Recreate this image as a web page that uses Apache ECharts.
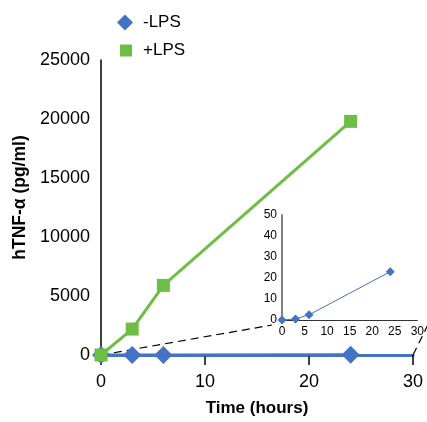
<!DOCTYPE html>
<html>
<head>
<meta charset="utf-8">
<script src="https://cdn.jsdelivr.net/npm/echarts@6/dist/echarts.min.js"></script>
<style>
html,body{margin:0;padding:0;background:#fff;}
#c{width:427px;height:422px;}
</style>
</head>
<body>
<div id="c"></div>
<script>
// ---- data ----
const timeHours = [0, 3, 6, 24];
const minusLPS = [0, 0.5, 2.5, 23];
const plusLPS = [0, 2200, 5900, 19800];
const mainYTicks = [0, 5000, 10000, 15000, 20000, 25000];
const mainXTicks = [0, 10, 20, 30];
const insetYTicks = [0, 10, 20, 30, 40, 50];
const insetXTicks = [0, 5, 10, 15, 20, 25, 30];

const BLUE = '#4472C4';
const GREEN = '#6DBE45';
const FONT = "'Liberation Sans', Arial, sans-serif";

const pairs = (xs, ys) => xs.map((x, i) => [x, ys[i]]);
const plain = v => String(v);

const chart = echarts.init(document.getElementById('c'), null, {renderer: 'canvas'});

const option = {
  animation: false,
  backgroundColor: '#fff',
  legend: [
    {
      left: 117, top: 14, orient: 'vertical', padding: 0,
      itemWidth: 16, itemHeight: 16,
      data: [{name: '-LPS', icon: 'diamond'}],
      textStyle: {fontFamily: FONT, fontSize: 17, color: '#000', padding: [0, 0, 0, 5]},
      selectedMode: false
    },
    {
      left: 120, top: 42, orient: 'vertical', padding: 0,
      itemWidth: 12, itemHeight: 12,
      data: [{name: '+LPS', icon: 'rect'}],
      textStyle: {fontFamily: FONT, fontSize: 17, color: '#000', padding: [0, 0, 0, 6]},
      selectedMode: false
    }
  ],
  grid: [
    {left: 101, top: 60, width: 312, height: 300, containLabel: false},
    {left: 282, top: 215, width: 141, height: 105, containLabel: false}
  ],
  xAxis: [
    {
      gridIndex: 0, type: 'value', min: mainXTicks[0], max: mainXTicks[mainXTicks.length - 1], interval: 10,
      name: 'Time (hours)', nameLocation: 'middle', nameGap: 45,
      nameTextStyle: {fontFamily: FONT, fontWeight: 'bold', fontSize: 17, color: '#000'},
      axisLine: {show: true, lineStyle: {color: BLUE, width: 3}},
      axisTick: {show: true, inside: false, length: 10, lineStyle: {color: '#000', width: 1.5}},
      axisLabel: {fontFamily: FONT, fontSize: 18, color: '#000', margin: 18, formatter: plain},
      splitLine: {show: false}
    },
    {
      gridIndex: 1, type: 'value', min: insetXTicks[0], max: insetXTicks[insetXTicks.length - 1], interval: 5,
      axisLine: {show: true, lineStyle: {color: '#333', width: 1}},
      axisTick: {show: false},
      axisLabel: {fontFamily: FONT, fontSize: 12, color: '#000', margin: 6, formatter: plain},
      splitLine: {show: false}
    }
  ],
  yAxis: [
    {
      gridIndex: 0, type: 'value', min: mainYTicks[0], max: mainYTicks[mainYTicks.length - 1], interval: 5000,
      name: 'hTNF-\u03b1 (pg/ml)', nameLocation: 'middle', nameGap: 62, nameRotate: 90,
      nameTextStyle: {fontFamily: FONT, fontWeight: 'bold', fontSize: 17.5, color: '#000', padding: [0, 0, 0, 20]},
      axisLine: {show: true, onZero: false, lineStyle: {color: '#000', width: 1.5}},
      axisTick: {show: false},
      axisLabel: {fontFamily: FONT, fontSize: 18, color: '#000', margin: 11, formatter: plain},
      splitLine: {show: false}
    },
    {
      gridIndex: 1, type: 'value', min: insetYTicks[0], max: insetYTicks[insetYTicks.length - 1], interval: 10,
      axisLine: {show: true, onZero: false, lineStyle: {color: '#808080', width: 2}},
      axisTick: {show: false},
      axisLabel: {fontFamily: FONT, fontSize: 12, color: '#000', margin: 5, formatter: plain},
      splitLine: {show: false}
    }
  ],
  series: [
    {
      name: '-LPS', type: 'line', xAxisIndex: 0, yAxisIndex: 0, clip: false, z: 3,
      data: pairs(timeHours, minusLPS),
      symbol: 'diamond', symbolSize: 18,
      lineStyle: {color: BLUE, width: 3},
      itemStyle: {color: BLUE}
    },
    {
      name: '+LPS', type: 'line', xAxisIndex: 0, yAxisIndex: 0, clip: false, z: 4,
      data: pairs(timeHours, plusLPS),
      symbol: 'rect', symbolSize: 13,
      lineStyle: {color: GREEN, width: 3},
      itemStyle: {color: GREEN}
    },
    {
      name: 'inset -LPS', type: 'line', xAxisIndex: 1, yAxisIndex: 1, clip: false, z: 5,
      data: pairs(timeHours, minusLPS),
      symbol: 'diamond', symbolSize: 9,
      lineStyle: {color: BLUE, width: 1},
      itemStyle: {color: BLUE}
    }
  ]
};

chart.setOption(option);

// dashed connector lines between the main chart and the inset
const m0 = chart.convertToPixel({gridIndex: 0}, [0, 0]);
const m30 = chart.convertToPixel({gridIndex: 0}, [30, 0]);
const i0 = chart.convertToPixel({gridIndex: 1}, [0, 0]);
const i30 = chart.convertToPixel({gridIndex: 1}, [30, 0]);
const dash = {stroke: '#000', lineWidth: 1.2, lineDash: [8, 5]};
chart.setOption({
  graphic: [
    {type: 'line', z: 2, shape: {x1: m0[0], y1: m0[1], x2: i0[0] - 10, y2: i0[1] + 5}, style: dash},
    {type: 'line', z: 2, shape: {x1: m30[0], y1: m30[1], x2: i30[0] + 12, y2: i30[1] + 2}, style: dash}
  ]
});
</script>
</body>
</html>
